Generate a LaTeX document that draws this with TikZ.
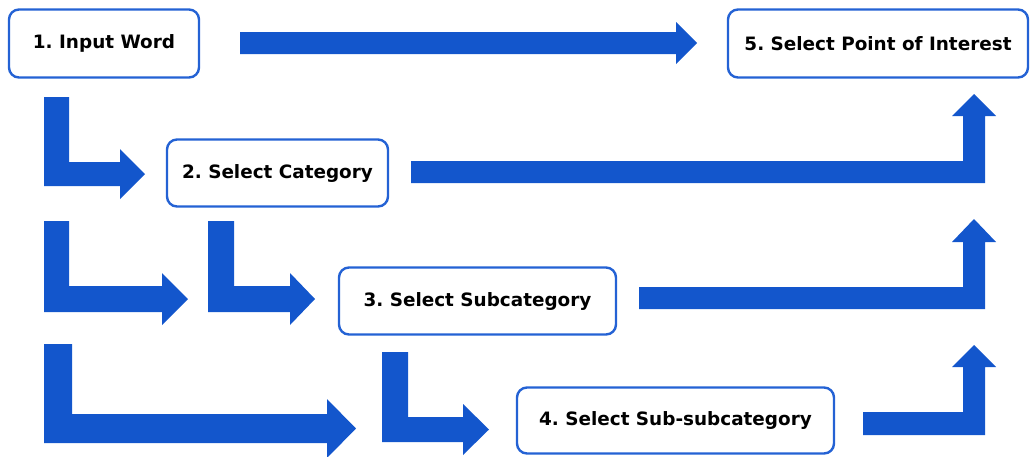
\documentclass[tikz,border=0pt]{standalone}
\usepackage{fontspec}
\setmainfont{DejaVu Sans}
\begin{document}
\frenchspacing
\definecolor{flowblue}{RGB}{19,86,204}
\definecolor{boxblue}{RGB}{36,98,212}
\begin{tikzpicture}[x=1pt,y=-1pt,
  stepbox/.style={draw=boxblue, line width=2.4pt, rounded corners=10pt, fill=white,
    inner sep=0pt, font=\fontsize{18.4}{20}\selectfont\bfseries, text=black},
  blockarrow/.style={fill=flowblue, draw=none}]
\useasboundingbox (0,0) rectangle (1030,456);

% step boxes
\node[stepbox, minimum width=190pt, minimum height=68pt] (s1) at (104,43.5) {1. Input Word};
\node[stepbox, minimum width=221pt, minimum height=67pt] (s2) at (277.5,173) {2. Select Category};
\node[stepbox, minimum width=277pt, minimum height=67pt] (s3) at (477.5,301) {3. Select Subcategory};
\node[stepbox, minimum width=317pt, minimum height=66pt] (s4) at (675.5,420.5) {4. Select Sub-subcategory};
\node[stepbox, minimum width=300pt, minimum height=68pt] (s5) at (878,43.5) {5. Select Point of Interest};

% straight arrow from step 1 to step 5
\fill[blockarrow] (240,32) -- (676,32) -- (676,22) -- (697,43) -- (676,64) -- (676,54) -- (240,54) -- cycle;

% down-and-right arrows from the left column
\fill[blockarrow] (44,97) -- (69,97) -- (69,162) -- (120,162) -- (120,149) -- (145,174)
  -- (120,199) -- (120,186) -- (44,186) -- cycle;
\fill[blockarrow] (44,221) -- (69,221) -- (69,286) -- (162,286) -- (162,273) -- (188,299)
  -- (162,325) -- (162,312) -- (44,312) -- cycle;
\fill[blockarrow] (44,344) -- (72,344) -- (72,414) -- (327,414) -- (327,399) -- (356,428.5)
  -- (327,458) -- (327,443) -- (44,443) -- cycle;

% down-and-right arrows below steps 2 and 3
\fill[blockarrow] (208,221) -- (234,221) -- (234,286) -- (290,286) -- (290,273) -- (315,299)
  -- (290,325) -- (290,312) -- (208,312) -- cycle;
\fill[blockarrow] (382,352) -- (408,352) -- (408,417) -- (463,417) -- (463,404) -- (489,429.5)
  -- (463,455) -- (463,442) -- (382,442) -- cycle;

% right-and-up arrows into step 5
\fill[blockarrow] (411,161) -- (963,161) -- (963,116) -- (952,116) -- (974,94) -- (996,116)
  -- (985,116) -- (985,183) -- (411,183) -- cycle;
\fill[blockarrow] (639,287) -- (963,287) -- (963,242) -- (952,242) -- (974,219) -- (996,242)
  -- (985,242) -- (985,309) -- (639,309) -- cycle;
\fill[blockarrow] (863,412) -- (963,412) -- (963,367) -- (952,367) -- (974,345) -- (996,367)
  -- (985,367) -- (985,435) -- (863,435) -- cycle;
\end{tikzpicture}
\end{document}
